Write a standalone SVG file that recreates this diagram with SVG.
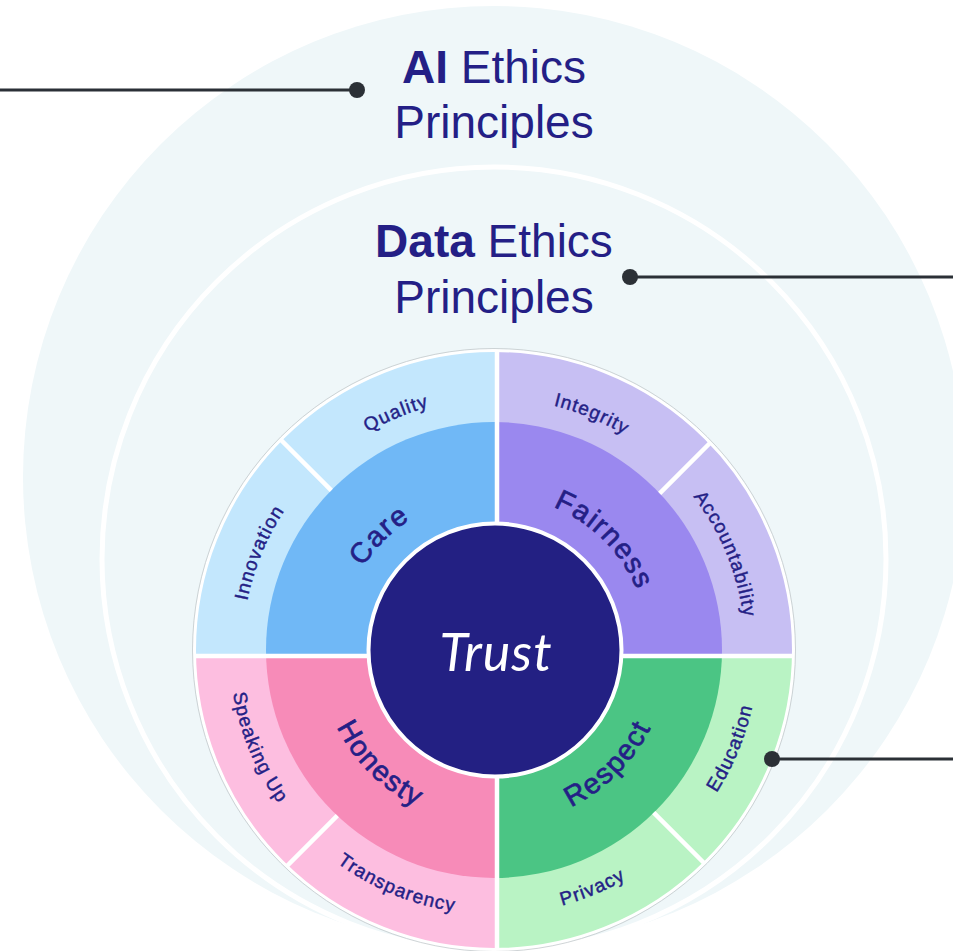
<svg xmlns="http://www.w3.org/2000/svg" width="953" height="951" viewBox="0 0 953 951">
  <style>
    .head { font-family: "Liberation Sans", Arial, sans-serif; font-size: 46px; fill: #241f86; text-anchor: middle; }
    .head .b { font-weight: bold; }
    .sub { font-family: "Liberation Sans", Arial, sans-serif; font-size: 19px; fill: #241f86; stroke: #241f86; stroke-width: 0.45px; letter-spacing: 1.1px; }
    .mid { font-family: "Liberation Sans", Arial, sans-serif; font-size: 28.5px; fill: #241f86; stroke: #241f86; stroke-width: 0.7px; letter-spacing: 1.6px; }
    .trust { font-family: Lato, "Open Sans", sans-serif; font-style: italic; font-size: 52px; fill: #ffffff; text-anchor: middle; letter-spacing: 1px; }
    .div { stroke: #ffffff; stroke-width: 4.5; fill: none; }
    .conn { stroke: #2b3036; stroke-width: 3; fill: none; }
    .dot { fill: #2b3036; }
  </style>
  <defs>
    <clipPath id="wheelClip"><circle cx="494" cy="650" r="300"/></clipPath>
    <clipPath id="midClip"><circle cx="494" cy="650" r="228"/></clipPath>
    <path id="pInnovation" d="M254.14,725.63 A251.5,251.5 0 0 1 377.88,426.92"/>
    <path id="pQuality" d="M270.92,533.88 A251.5,251.5 0 0 1 569.63,410.14"/>
    <path id="pIntegrity" d="M418.37,410.14 A251.5,251.5 0 0 1 717.08,533.88"/>
    <path id="pAccountability" d="M610.12,426.92 A251.5,251.5 0 0 1 733.86,725.63"/>
    <path id="pEducation" d="M616.12,884.61 A264.5,264.5 0 0 0 746.25,570.46"/>
    <path id="pPrivacy" d="M414.46,902.25 A264.5,264.5 0 0 0 728.61,772.12"/>
    <path id="pTransparency" d="M259.39,772.12 A264.5,264.5 0 0 0 573.54,902.25"/>
    <path id="pSpeaking" d="M241.75,570.46 A264.5,264.5 0 0 0 371.88,884.61"/>
    <path id="pCare" d="M339,650 A155,155 0 0 1 494,495"/>
    <path id="pFairness" d="M494,495 A155,155 0 0 1 649,650"/>
    <path id="pHonesty" d="M319,650 A175,175 0 0 0 494,825"/>
    <path id="pRespect" d="M494,825 A175,175 0 0 0 669,650"/>
  </defs>

  <rect width="953" height="951" fill="#ffffff"/>

  <g id="ai-ethics">
    <circle cx="494" cy="477" r="471" fill="#eff7f9"/>
    <text class="head" x="494" y="83"><tspan class="b">AI</tspan> Ethics</text>
    <text class="head" x="494" y="138">Principles</text>
  </g>

  <g id="data-ethics">
    <circle cx="494" cy="559" r="392" fill="none" stroke="#ffffff" stroke-width="5"/>
    <text class="head" x="494" y="257"><tspan class="b">Data</tspan> Ethics</text>
    <text class="head" x="494" y="313">Principles</text>
  </g>

  <g id="care">
    <rect clip-path="url(#wheelClip)" x="190" y="345" width="307" height="311" fill="#c3e7fd"/>
    <rect clip-path="url(#midClip)" x="190" y="345" width="307" height="311" fill="#70b8f6"/>
    <text class="mid"><textPath href="#pCare" startOffset="50%" text-anchor="middle">Care</textPath></text>
    <text class="sub"><textPath href="#pInnovation" startOffset="50%" text-anchor="middle">Innovation</textPath></text>
    <text class="sub"><textPath href="#pQuality" startOffset="50%" text-anchor="middle">Quality</textPath></text>
  </g>

  <g id="fairness">
    <rect clip-path="url(#wheelClip)" x="497" y="345" width="305" height="311" fill="#c7bff3"/>
    <rect clip-path="url(#midClip)" x="497" y="345" width="305" height="311" fill="#9a88ef"/>
    <text class="mid"><textPath href="#pFairness" startOffset="50%" text-anchor="middle">Fairness</textPath></text>
    <text class="sub"><textPath href="#pIntegrity" startOffset="50%" text-anchor="middle">Integrity</textPath></text>
    <text class="sub"><textPath href="#pAccountability" startOffset="50%" text-anchor="middle">Accountability</textPath></text>
  </g>

  <g id="honesty">
    <rect clip-path="url(#wheelClip)" x="190" y="656" width="307" height="300" fill="#fdbee0"/>
    <rect clip-path="url(#midClip)" x="190" y="656" width="307" height="300" fill="#f78bb8"/>
    <text class="mid"><textPath href="#pHonesty" startOffset="50%" text-anchor="middle">Honesty</textPath></text>
    <text class="sub"><textPath href="#pSpeaking" startOffset="50%" text-anchor="middle">Speaking Up</textPath></text>
    <text class="sub"><textPath href="#pTransparency" startOffset="50%" text-anchor="middle">Transparency</textPath></text>
  </g>

  <g id="respect">
    <rect clip-path="url(#wheelClip)" x="497" y="656" width="305" height="300" fill="#b9f3c4"/>
    <rect clip-path="url(#midClip)" x="497" y="656" width="305" height="300" fill="#4bc584"/>
    <text class="mid"><textPath href="#pRespect" startOffset="50%" text-anchor="middle">Respect</textPath></text>
    <text class="sub"><textPath href="#pPrivacy" startOffset="50%" text-anchor="middle">Privacy</textPath></text>
    <text class="sub"><textPath href="#pEducation" startOffset="50%" text-anchor="middle">Education</textPath></text>
  </g>

  <g id="wheel-dividers">
    <g clip-path="url(#wheelClip)">
      <line class="div" x1="497" y1="340" x2="497" y2="960"/>
      <line class="div" x1="185" y1="656" x2="805" y2="656"/>
      <line class="div" x1="331.3" y1="490.3" x2="272" y2="431"/>
      <line class="div" x1="659.7" y1="493.3" x2="722" y2="431"/>
      <line class="div" x1="653.7" y1="812.7" x2="722" y2="881"/>
      <line class="div" x1="337.3" y1="815.7" x2="272" y2="881"/>
    </g>
    <circle cx="494" cy="650" r="299.5" fill="none" stroke="#ffffff" stroke-width="3"/>
    <circle cx="494" cy="650" r="301.5" fill="none" stroke="#c3c9cc" stroke-width="0.8"/>
  </g>

  <g id="trust">
    <circle cx="495" cy="650" r="126.5" fill="#232083" stroke="#ffffff" stroke-width="4"/>
    <text class="trust" x="496" y="671">Trust</text>
  </g>

  <g id="connectors">
    <line class="conn" x1="0" y1="90" x2="357" y2="90"/>
    <circle class="dot" cx="357" cy="90" r="8"/>
    <line class="conn" x1="630" y1="277" x2="953" y2="277"/>
    <circle class="dot" cx="630" cy="277" r="8"/>
    <line class="conn" x1="772" y1="759" x2="953" y2="759"/>
    <circle class="dot" cx="772" cy="759" r="8"/>
  </g>
</svg>
